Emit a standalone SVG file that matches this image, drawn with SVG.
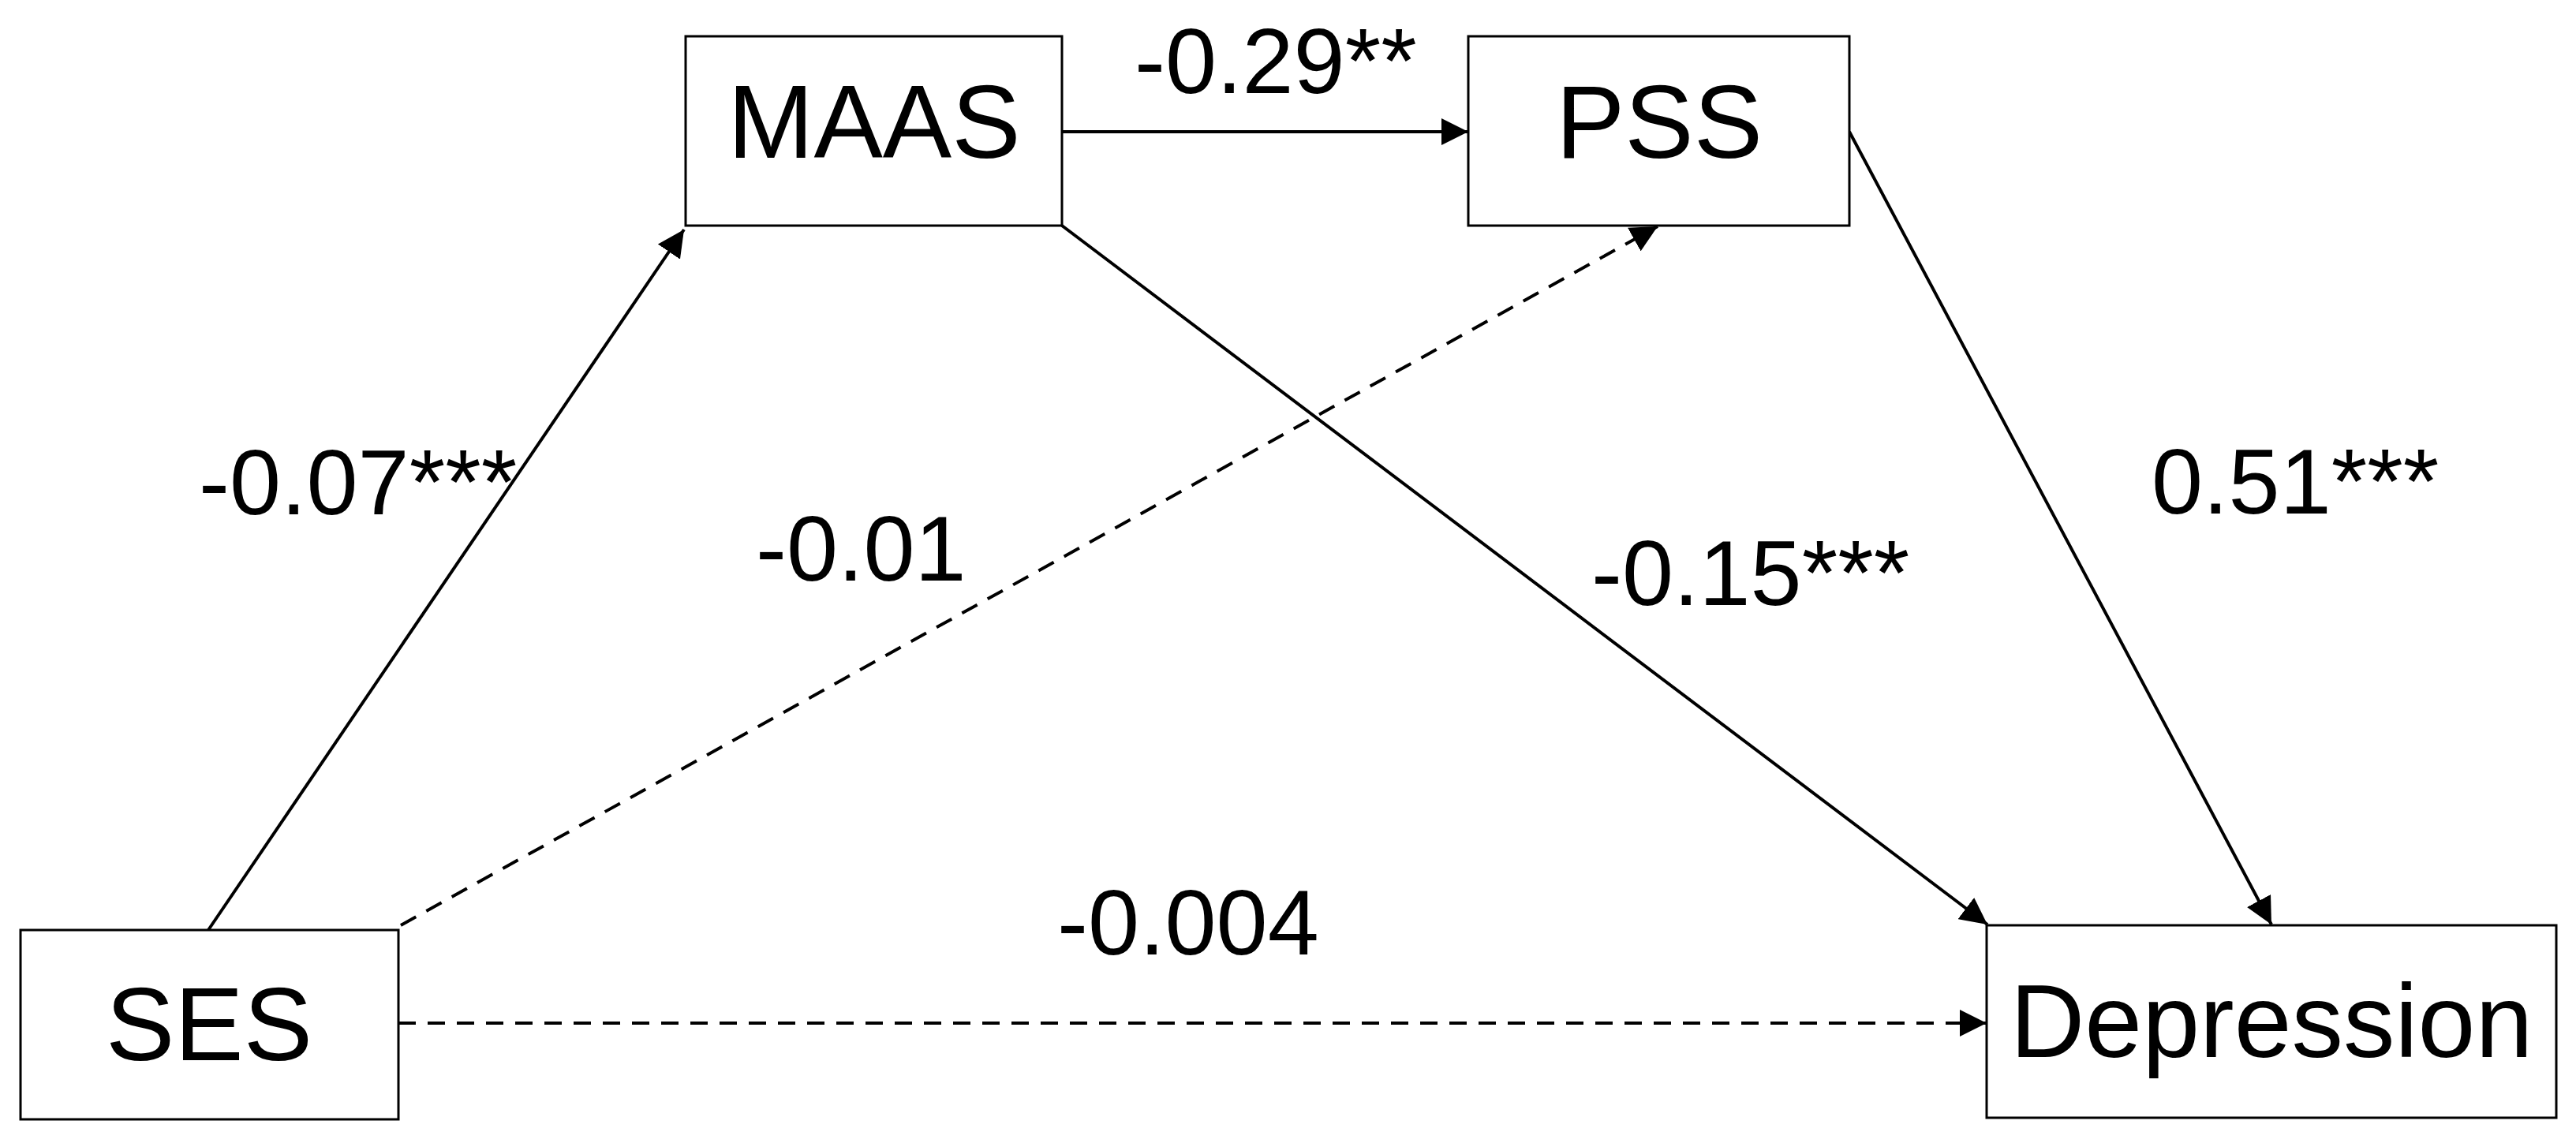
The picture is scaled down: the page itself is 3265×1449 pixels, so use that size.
<svg xmlns="http://www.w3.org/2000/svg" width="3265" height="1449" viewBox="0 0 3265 1449">
  <style>
    .box { fill: #ffffff; stroke: #000000; stroke-width: 3; }
    .node-label { font-family: "Liberation Sans", Arial, sans-serif; font-size: 131px; fill: #000000; text-anchor: middle; }
    .edge-label { font-family: "Liberation Sans", Arial, sans-serif; font-size: 117px; fill: #000000; }
    .edge { fill: none; stroke: #000000; stroke-width: 4; }
    .dashed { stroke-dasharray: 22 15; }
  </style>
  <defs>
    <marker id="arrow" viewBox="0 0 34 34" refX="34" refY="17" markerWidth="34" markerHeight="34" markerUnits="userSpaceOnUse" orient="auto">
      <path d="M0,0 L34,17 L0,34 z" fill="#000000"/>
    </marker>
  </defs>
  <rect width="3265" height="1449" fill="#ffffff"/>

  <g id="connectors">
    <line class="edge" x1="1346" y1="167" x2="1861" y2="167" marker-end="url(#arrow)"/>
    <line class="edge" x1="264" y1="1179" x2="867" y2="291" marker-end="url(#arrow)"/>
    <line class="edge dashed" x1="508" y1="1173" x2="2101" y2="287" marker-end="url(#arrow)"/>
    <line class="edge" x1="1346" y1="286" x2="2519" y2="1172" marker-end="url(#arrow)"/>
    <line class="edge" x1="2344" y1="167" x2="2879" y2="1172" marker-end="url(#arrow)"/>
    <line class="edge dashed" x1="505" y1="1297" x2="2518" y2="1297" marker-end="url(#arrow)"/>
  </g>

  <g id="node-maas">
    <rect class="box" x="869" y="46" width="477" height="240"/>
    <text class="node-label" x="1108" y="200">MAAS</text>
  </g>
  <g id="node-pss">
    <rect class="box" x="1861" y="46" width="483" height="240"/>
    <text class="node-label" x="2103" y="200">PSS</text>
  </g>
  <g id="node-ses">
    <rect class="box" x="26" y="1179" width="479" height="240"/>
    <text class="node-label" x="265" y="1344">SES</text>
  </g>
  <g id="node-depression">
    <rect class="box" x="2518" y="1173" width="722" height="244"/>
    <text class="node-label" x="2879" y="1340">Depression</text>
  </g>

  <g id="edge-labels">
    <text class="edge-label" x="1438" y="118">-0.29**</text>
    <text class="edge-label" x="252" y="652">-0.07***</text>
    <text class="edge-label" x="958" y="736">-0.01</text>
    <text class="edge-label" x="2017" y="767">-0.15***</text>
    <text class="edge-label" x="2727" y="651">0.51***</text>
    <text class="edge-label" x="1340" y="1210">-0.004</text>
  </g>
</svg>
